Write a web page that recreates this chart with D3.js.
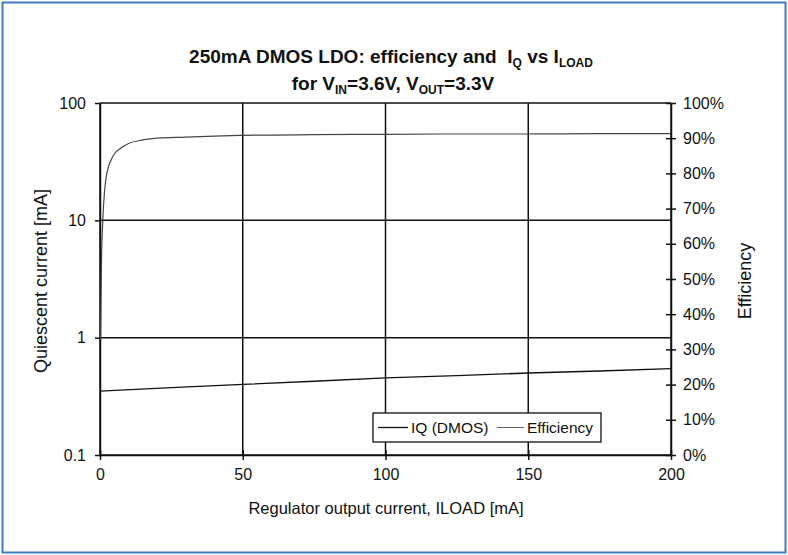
<!DOCTYPE html>
<html>
<head>
<meta charset="utf-8">
<script src="https://cdn.jsdelivr.net/npm/d3@7"></script>
<style>
  body { margin: 0; background: #fff; }
  svg { display: block; font-family: "Liberation Sans", Arial, sans-serif; }
</style>
</head>
<body>
<svg width="788" height="555"></svg>
<script>
/* LDO efficiency / IQ chart */

// load current in mA
var iqLoad = [0, 25, 50, 75, 100, 125, 150, 175, 200];
var iqValues = [0.35, 0.375, 0.40, 0.425, 0.455, 0.475, 0.50, 0.52, 0.545];

var effLoad = [0.2, 0.5, 1, 1.5, 2, 3, 4, 5, 7, 10, 15, 20, 30, 40, 50, 75, 100, 125, 150, 175, 200];
var effValues = [0.33, 0.54, 0.67, 0.74, 0.78, 0.82, 0.84, 0.855, 0.87, 0.885, 0.895, 0.90, 0.903, 0.906, 0.908, 0.910, 0.911, 0.912, 0.912, 0.913, 0.913];

var xTicks = [0, 50, 100, 150, 200];
var yLeftTicks = [0.1, 1, 10, 100];
var yRightTicks = [0, 0.1, 0.2, 0.3, 0.4, 0.5, 0.6, 0.7, 0.8, 0.9, 1];

var svg = d3.select("svg"),
    width = +svg.attr("width"),
    height = +svg.attr("height");

var margin = { top: 103, right: 117, bottom: 100, left: 100 };

var x = d3.scaleLinear().domain([0, 200]).range([margin.left, width - margin.right]);
var yL = d3.scaleLog().domain([0.1, 100]).range([height - margin.bottom, margin.top]);
var yR = d3.scaleLinear().domain([0, 1]).range([height - margin.bottom, margin.top]);

// outer frame
svg.append("rect")
    .attr("x", 2.5).attr("y", 2.5)
    .attr("width", width - 5).attr("height", height - 5)
    .attr("fill", "none")
    .attr("stroke", "#3d7cc2")
    .attr("stroke-width", 2);

// title
var title = svg.append("text")
    .attr("x", 391).attr("y", 63)
    .attr("text-anchor", "middle")
    .attr("font-size", 19).attr("font-weight", "bold")
    .attr("fill", "#111");
title.append("tspan").text("250mA DMOS LDO: efficiency and \u00a0I");
title.append("tspan").attr("font-size", 12).attr("dy", 4).text("Q");
title.append("tspan").attr("dy", -4).text(" vs I");
title.append("tspan").attr("font-size", 12).attr("dy", 4).text("LOAD");

var title2 = svg.append("text")
    .attr("x", 393).attr("y", 90)
    .attr("text-anchor", "middle")
    .attr("font-size", 19).attr("font-weight", "bold")
    .attr("fill", "#111");
title2.append("tspan").text("for V");
title2.append("tspan").attr("font-size", 12).attr("dy", 4).text("IN");
title2.append("tspan").attr("dy", -4).text("=3.6V, V");
title2.append("tspan").attr("font-size", 12).attr("dy", 4).text("OUT");
title2.append("tspan").attr("dy", -4).text("=3.3V");

// grid
var grid = svg.append("g").attr("stroke", "#111").attr("stroke-width", 1.5);
grid.selectAll("line.h")
    .data(yLeftTicks)
    .enter().append("line")
    .attr("x1", x(0)).attr("x2", x(200))
    .attr("y1", function (d) { return yL(d); })
    .attr("y2", function (d) { return yL(d); });
grid.selectAll("line.v")
    .data(xTicks)
    .enter().append("line")
    .attr("x1", function (d) { return x(d); })
    .attr("x2", function (d) { return x(d); })
    .attr("y1", yL(100)).attr("y2", yL(0.1));

// axes
svg.append("g")
    .attr("transform", "translate(0," + yL(0.1) + ")")
    .call(d3.axisBottom(x).tickValues(xTicks).tickSize(5).tickSizeOuter(0).tickPadding(9));
svg.append("g")
    .attr("transform", "translate(0," + (yL(0.1) - 5) + ")")
    .call(d3.axisBottom(x).tickValues(xTicks).tickSize(5).tickFormat("").tickSizeOuter(0))
    .select(".domain").remove();

svg.append("g")
    .attr("transform", "translate(" + x(0) + ",0)")
    .call(d3.axisLeft(yL).tickValues(yLeftTicks).tickFormat(d3.format("")).tickSize(5).tickSizeOuter(0).tickPadding(9));

svg.append("g")
    .attr("transform", "translate(" + x(200) + ",0)")
    .call(d3.axisRight(yR).tickValues(yRightTicks).tickFormat(d3.format(".0%")).tickSize(5).tickSizeOuter(0).tickPadding(7));
svg.append("g")
    .attr("transform", "translate(" + (x(200) - 5) + ",0)")
    .call(d3.axisRight(yR).tickValues(yRightTicks).tickFormat("").tickSize(5).tickSizeOuter(0))
    .select(".domain").remove();

svg.selectAll(".domain").attr("stroke", "#111").attr("stroke-width", 1.5);
svg.selectAll(".tick line").attr("stroke", "#111").attr("stroke-width", 1.5);
svg.selectAll(".tick text")
    .attr("font-size", 16)
    .attr("font-family", "'Liberation Sans', Arial, sans-serif")
    .attr("fill", "#111");

// axis titles
svg.append("text")
    .attr("x", 386).attr("y", 514)
    .attr("text-anchor", "middle")
    .attr("font-size", 16.5).attr("fill", "#111")
    .text("Regulator output current, ILOAD [mA]");

svg.append("text")
    .attr("transform", "translate(47,281) rotate(-90)")
    .attr("text-anchor", "middle")
    .attr("font-size", 18).attr("fill", "#111")
    .text("Quiescent current [mA]");

svg.append("text")
    .attr("transform", "translate(751,281) rotate(-90)")
    .attr("text-anchor", "middle")
    .attr("font-size", 18).attr("fill", "#111")
    .text("Efficiency");

// series
var iqLine = d3.line()
    .x(function (d, i) { return x(iqLoad[i]); })
    .y(function (d) { return yL(d); });

svg.append("path")
    .datum(iqValues)
    .attr("fill", "none")
    .attr("stroke", "#111")
    .attr("stroke-width", 1.3)
    .attr("d", iqLine);

var effLine = d3.line()
    .x(function (d, i) { return x(effLoad[i]); })
    .y(function (d) { return yR(d); })
    .curve(d3.curveMonotoneX);

svg.append("path")
    .datum(effValues)
    .attr("fill", "none")
    .attr("stroke", "#444")
    .attr("stroke-width", 1.2)
    .attr("d", effLine);

// legend
var legend = svg.append("g").attr("transform", "translate(373,413)");
legend.append("rect")
    .attr("width", 228).attr("height", 29)
    .attr("fill", "#fff").attr("stroke", "#111").attr("stroke-width", 1.3);
legend.append("line")
    .attr("x1", 5).attr("x2", 35).attr("y1", 14.5).attr("y2", 14.5)
    .attr("stroke", "#111").attr("stroke-width", 1.3);
legend.append("text")
    .attr("x", 38).attr("y", 20)
    .attr("font-size", 15.5).attr("fill", "#111")
    .text("IQ (DMOS)");
legend.append("line")
    .attr("x1", 124).attr("x2", 151).attr("y1", 14.5).attr("y2", 14.5)
    .attr("stroke", "#666").attr("stroke-width", 1);
legend.append("text")
    .attr("x", 154).attr("y", 20)
    .attr("font-size", 15.5).attr("fill", "#111")
    .text("Efficiency");
</script>
</body>
</html>
